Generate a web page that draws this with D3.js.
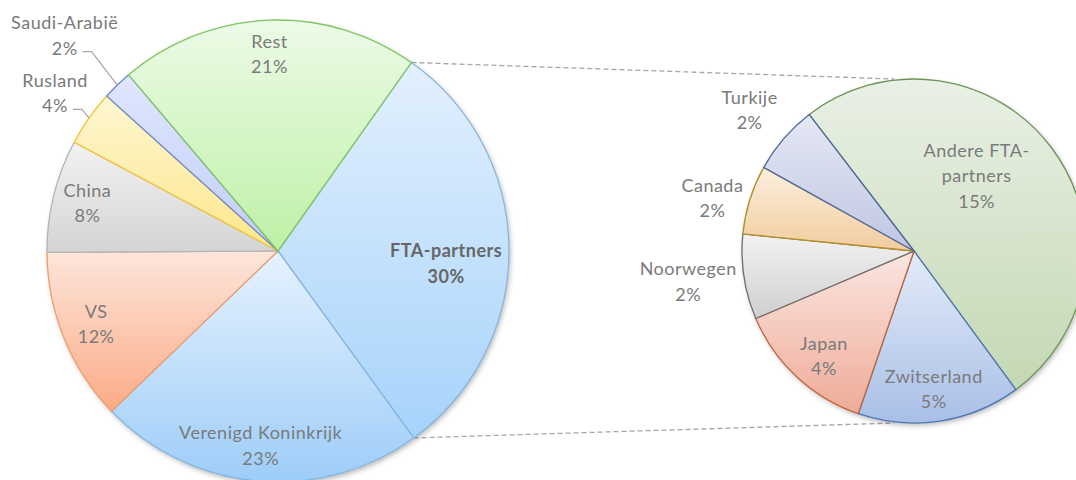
<!DOCTYPE html>
<html>
<head>
<meta charset="utf-8">
<script src="https://cdn.jsdelivr.net/npm/d3@7"></script>
<style>
  html, body { margin: 0; padding: 0; background: #fff; }
  #chart { width: 1076px; height: 480px; }
  text { font-family: Lato, "Open Sans", sans-serif; letter-spacing: 0.5px; }
</style>
</head>
<body>
<div id="chart"></div>
<script>
// ---- data ----
const mainLabels = ['FTA-partners', 'Verenigd Koninkrijk', 'VS', 'China', 'Rusland', 'Saudi-Arabië', 'Rest'];
const mainValues = [30.2, 22.8, 12.1, 7.9, 3.9, 2.1, 21.0];

const subLabels = ['Andere FTA-\npartners', 'Zwitserland', 'Japan', 'Noorwegen', 'Canada', 'Turkije'];
const subValues = [15.1, 4.6, 4.0, 2.4, 1.95, 1.95];

// ---- styles ----
const mainColors = [
  ['#e3f0fd', '#a6d3fb', '#86b5de'],
  ['#e6f2fe', '#9dcdf8', '#86b5de'],
  ['#fde6dc', '#fbab86', '#f29a68'],
  ['#f2f2f2', '#d4d4d4', '#b4b4b4'],
  ['#fef7d2', '#fde68a', '#f2c53d'],
  ['#e0e7fd', '#c0cdf9', '#6f88d3'],
  ['#ecfbe7', '#bff0a6', '#7fc562']
];
const subColors = [
  ['#e9f0e5', '#c3d8b4', '#6c9456'],
  ['#e4ecf8', '#a9bfe7', '#4b76b3'],
  ['#fbe6e1', '#eeab98', '#c0653a'],
  ['#f2f2f2', '#cfcfcf', '#6e6e6e'],
  ['#fcefdf', '#f1cc9d', '#b48f2a'],
  ['#e5e8f4', '#bfc6e2', '#4d679d']
];

const W = 1076, H = 480;
const main = { cx: 278, cy: 251, r: 231, start: 35.3 };
const sub = { cx: 914, cy: 251, r: 172, start: -37.5 };
const fontSize = 18, lineH = 25.5;
const textColor = '#7a7a7a';

// label placement (k = radius factor, da = angle nudge in degrees)
const mainLabelPos = {
  'FTA-partners': { k: 0.73, da: 5 },
  'Rusland': { k: 1.18, da: 0, leader: true },
  'Saudi-Arabië': { k: 1.31, da: -0.75, leader: true }
};
const subLabelPos = {
  'Andere FTA-\npartners': { k: 0.565, da: -13 },
  'Zwitserland': { k: 0.816, da: 0.6 },
  'Japan': { k: 0.808, da: -2.5 },
  'Noorwegen': { k: 1.325, da: 0.8 },
  'Canada': { k: 1.21, da: -3 },
  'Turkije': { k: 1.255, da: -0.4 }
};

const rad = (d) => d * Math.PI / 180;
const polar = (c, a, r) => [c.cx + r * Math.sin(a), c.cy - r * Math.cos(a)];

const svg = d3.select('#chart').append('svg').attr('width', W).attr('height', H);
const defs = svg.append('defs');

const shadow = defs.append('filter').attr('id', 'shadow')
  .attr('x', '-10%').attr('y', '-10%').attr('width', '120%').attr('height', '120%');
shadow.append('feDropShadow')
  .attr('dx', 1.5).attr('dy', 2.5).attr('stdDeviation', 2.5)
  .attr('flood-color', '#000').attr('flood-opacity', 0.28);

function makeGradient(id, c) {
  const g = defs.append('linearGradient').attr('id', id)
    .attr('x1', 0).attr('y1', 0).attr('x2', 0).attr('y2', 1);
  g.append('stop').attr('offset', '0%').attr('stop-color', c[0]);
  g.append('stop').attr('offset', '100%').attr('stop-color', c[1]);
}

// connector lines (drawn first, behind pies)
const mainArcs = d3.pie().sort(null)
  .startAngle(rad(main.start)).endAngle(rad(main.start) + 2 * Math.PI)(mainValues);
const fta = mainArcs[0];
const p1 = polar(main, fta.startAngle, main.r);
const p2 = polar(main, fta.endAngle, main.r);
const connectors = [[p1, [sub.cx - 20, sub.cy - sub.r]], [p2, [sub.cx - 20, sub.cy + sub.r]]];
svg.append('g').selectAll('line').data(connectors).join('line')
  .attr('x1', (d) => d[0][0]).attr('y1', (d) => d[0][1])
  .attr('x2', (d) => d[1][0]).attr('y2', (d) => d[1][1])
  .attr('stroke', '#a6a6a6').attr('stroke-width', 1.3)
  .attr('stroke-dasharray', '5,3');

function drawPie(c, labels, values, colors, posMap, prefix) {
  const arcs = d3.pie().sort(null)
    .startAngle(rad(c.start)).endAngle(rad(c.start) + 2 * Math.PI)(values);
  const arc = d3.arc().innerRadius(0).outerRadius(c.r);

  colors.forEach((col, i) => makeGradient(`${prefix}-g${i}`, col));

  const g = svg.append('g').attr('transform', `translate(${c.cx},${c.cy})`);
  g.append('circle').attr('r', c.r).attr('fill', '#fff').attr('filter', 'url(#shadow)');
  g.selectAll('path').data(arcs).join('path')
    .attr('d', arc)
    .attr('fill', (d, i) => `url(#${prefix}-g${i})`)
    .attr('stroke', (d, i) => colors[i][2])
    .attr('stroke-width', 1.3)
    .attr('stroke-linejoin', 'round');

  const lg = svg.append('g');
  arcs.forEach((d, i) => {
    const name = labels[i];
    const pos = posMap[name] || { k: 0.85, da: 0 };
    const mid = (d.startAngle + d.endAngle) / 2;
    const [x, y] = polar(c, mid + rad(pos.da), c.r * pos.k);
    const lines = name.split('\n').concat([Math.round(values[i]) + '%']);
    const bold = name === 'FTA-partners';
    const n = lines.length;
    let lastText = null, lastY = 0;
    lines.forEach((t, li) => {
      const by = y + (li - (n - 1) / 2) * lineH + 5.5;
      lastText = lg.append('text')
        .attr('x', x).attr('y', by)
        .attr('text-anchor', 'middle')
        .attr('font-size', fontSize + 'px')
        .attr('font-weight', bold ? 'bold' : 'normal')
        .attr('fill', bold ? '#666666' : textColor)
        .text(t);
      lastY = by;
    });
    if (pos.leader) {
      const w = lastText.node().getComputedTextLength();
      const sx = x + w / 2 + 5;
      const ly = lastY - 3;
      const edge = polar(c, mid, c.r);
      lg.append('polyline')
        .attr('points', [[sx, ly], [sx + 9, ly], edge].map((p) => p.join(',')).join(' '))
        .attr('fill', 'none').attr('stroke', '#a6a6a6').attr('stroke-width', 1.2);
    }
  });
}

drawPie(main, mainLabels, mainValues, mainColors, mainLabelPos, 'm');
drawPie(sub, subLabels, subValues, subColors, subLabelPos, 's');
</script>
</body>
</html>
